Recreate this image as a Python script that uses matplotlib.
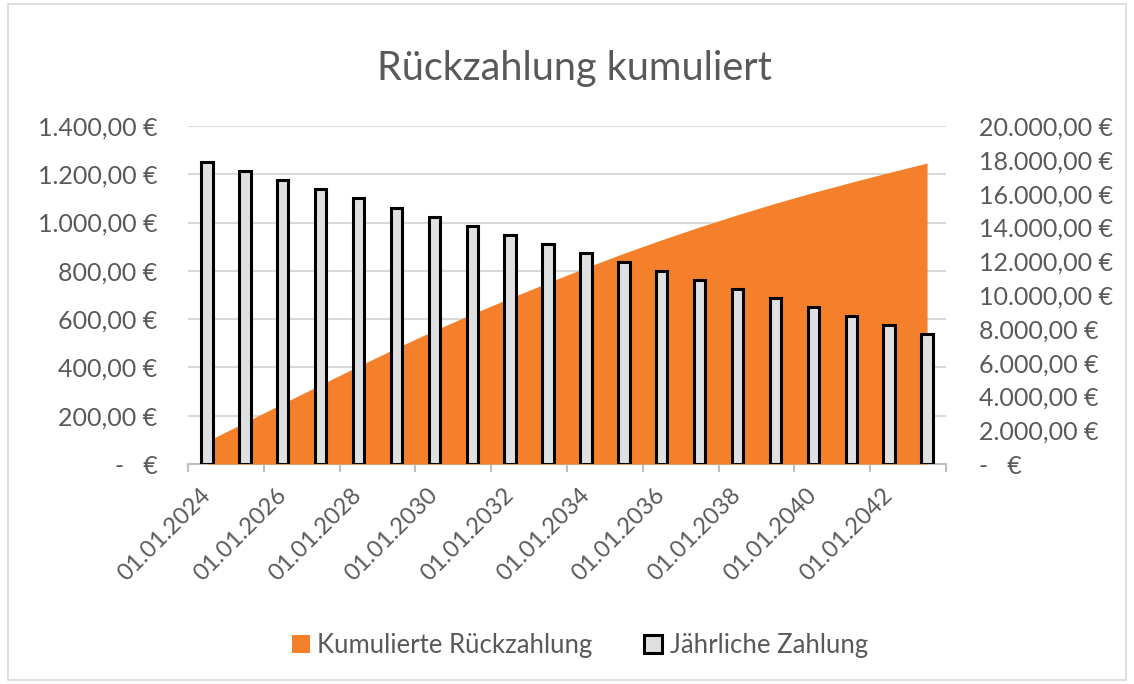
import matplotlib
matplotlib.use("Agg")
import matplotlib.pyplot as plt
from matplotlib.patches import Rectangle, Patch
from matplotlib.ticker import FuncFormatter

plt.rcParams['font.family'] = ['Lato', 'DejaVu Sans']

# Daten
jahre = ['01.01.2024', '01.01.2025', '01.01.2026', '01.01.2027', '01.01.2028',
         '01.01.2029', '01.01.2030', '01.01.2031', '01.01.2032', '01.01.2033',
         '01.01.2034', '01.01.2035', '01.01.2036', '01.01.2037', '01.01.2038',
         '01.01.2039', '01.01.2040', '01.01.2041', '01.01.2042', '01.01.2043']
jaehrliche_zahlung = [1250, 1212, 1175, 1137, 1100, 1062, 1025, 987, 950, 912,
                      875, 837, 800, 762, 725, 687, 650, 612, 575, 537]
kumuliert = [1340, 2460, 3580, 4690, 5790, 6870, 7900, 8880, 9820, 10730,
             11620, 12470, 13270, 14030, 14750, 15430, 16070, 16670, 17250, 17810]
links_ticks = [0, 200, 400, 600, 800, 1000, 1200, 1400]
rechts_ticks = [0, 2000, 4000, 6000, 8000, 10000, 12000, 14000, 16000, 18000, 20000]

GRAU = '#595959'
ORANGE = '#F4802B'


def euro(v, pos=None):
    if abs(v) < 1e-9:
        return '-   €'
    s = f'{v:,.2f}'.replace(',', 'X').replace('.', ',').replace('X', '.')
    return s + ' €'


fig = plt.figure(figsize=(11.34, 6.84), dpi=100)
fig.patches.append(Rectangle((8 / 1134, 4 / 684), 1118 / 1134, 676 / 684,
                             transform=fig.transFigure, fill=False,
                             edgecolor='#d9d9d9', linewidth=1.2))

ax = fig.add_axes([188 / 1134, 1 - 464 / 684, 758 / 1134, 338 / 684])
ax2 = ax.twinx()
ax3 = ax.twinx()

x = list(range(len(jahre)))

# Linke Achse: Gitter und Beschriftung
ax.set_ylim(0, 1400)
ax.set_yticks(links_ticks)
ax.yaxis.set_major_formatter(FuncFormatter(euro))
ax.grid(axis='y', color='#d9d9d9', linewidth=1.5)
ax.set_axisbelow(True)
for s in ['top', 'right', 'left']:
    ax.spines[s].set_visible(False)
ax.spines['bottom'].set_color('#bfbfbf')
ax.spines['bottom'].set_linewidth(1.5)
ax.tick_params(axis='y', length=0, pad=22, labelsize=18, labelcolor=GRAU)

ax.set_xlim(-0.5, len(jahre) - 0.5)
ax.set_xticks(x[::2])
ax.set_xticklabels(jahre[::2], rotation=45, ha='right', va='center',
                   rotation_mode='anchor')
ax.set_xticks([i - 0.5 for i in range(0, len(jahre) + 1, 2)], minor=True)
ax.tick_params(axis='x', which='major', length=0, pad=20, labelsize=17,
               labelcolor=GRAU)
ax.tick_params(axis='x', which='minor', length=6, color='#bfbfbf', width=1.5)

# Rechte Achse: Fläche
ax2.fill_between(x, kumuliert, color=ORANGE, linewidth=0)
ax2.set_ylim(0, 20000)
ax2.set_yticks(rechts_ticks)
ax2.yaxis.set_major_formatter(FuncFormatter(euro))
ax2.tick_params(axis='y', length=0, pad=24, labelsize=18, labelcolor=GRAU)
for s in ax2.spines.values():
    s.set_visible(False)

# Balken oben
ax3.bar(x, jaehrliche_zahlung, width=0.3, color='#DEE0E1', edgecolor='black',
        linewidth=2.2)
ax3.set_ylim(0, 1400)
ax3.set_yticks([])
for s in ax3.spines.values():
    s.set_visible(False)

fig.text(574 / 1134, 1 - 80 / 684, 'Rückzahlung kumuliert', ha='center',
         va='baseline', fontsize=28.5, color=GRAU)

handles = [Patch(facecolor=ORANGE, edgecolor='none'),
           Patch(facecolor='#DEE0E1', edgecolor='black', linewidth=2.2)]
fig.legend(handles, ['Kumulierte Rückzahlung', 'Jährliche Zahlung'],
           loc='center', bbox_to_anchor=(580 / 1134, 1 - 645 / 684), ncol=2,
           frameon=False, fontsize=18.5, labelcolor=GRAU, handlelength=0.7,
           handleheight=0.7, handletextpad=0.3, columnspacing=2.0)

fig.savefig('out.png', dpi=100)
